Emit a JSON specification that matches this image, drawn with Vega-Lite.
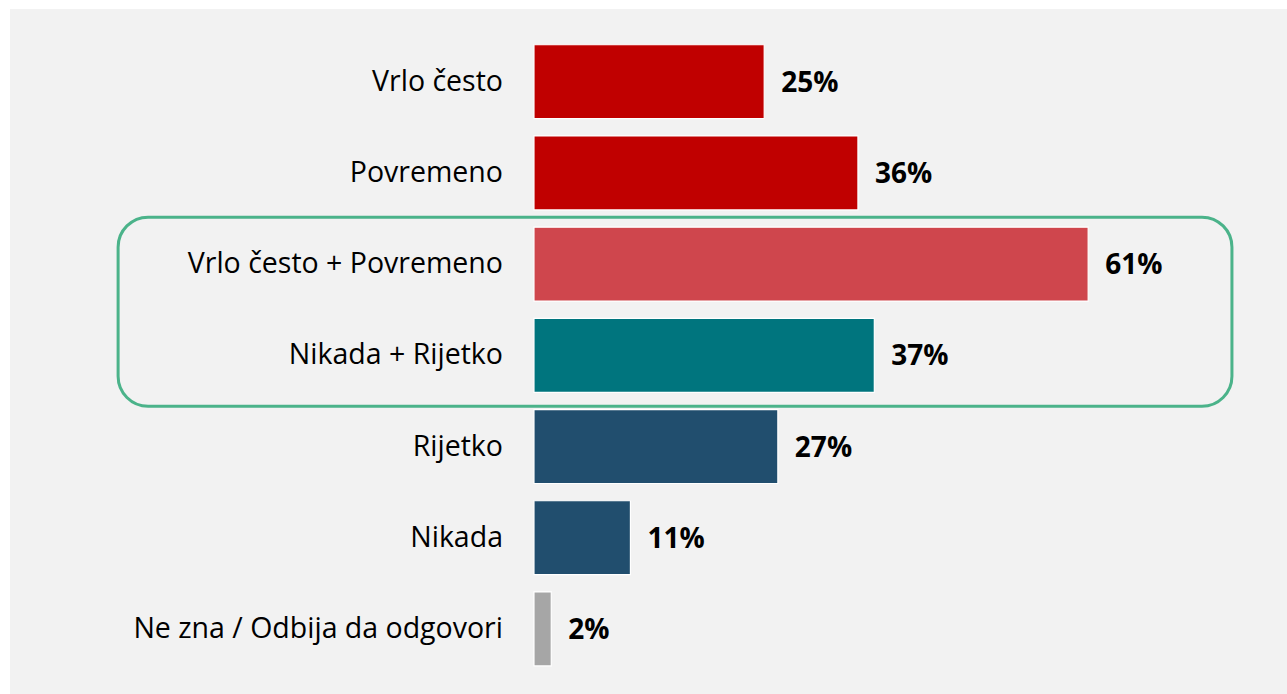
{
  "$schema": "https://vega.github.io/schema/vega-lite/v6.json",
  "width": 1287,
  "height": 694,
  "autosize": {"type": "fit", "contains": "padding"},
  "padding": {"left": 10, "top": 9, "right": 0, "bottom": 0},
  "background": "white",
  "config": {"view": {"fill": "#f2f2f2", "stroke": null}},
  "data": {
    "values": [
      {"kategorija": "Vrlo često", "vrijednost": 25.3, "oznaka": "25%", "grupa": "Često"},
      {"kategorija": "Povremeno", "vrijednost": 35.6, "oznaka": "36%", "grupa": "Često"},
      {"kategorija": "Vrlo često + Povremeno", "vrijednost": 60.9, "oznaka": "61%", "grupa": "Ukupno često"},
      {"kategorija": "Nikada + Rijetko", "vrijednost": 37.4, "oznaka": "37%", "grupa": "Ukupno rijetko"},
      {"kategorija": "Rijetko", "vrijednost": 26.8, "oznaka": "27%", "grupa": "Rijetko"},
      {"kategorija": "Nikada", "vrijednost": 10.6, "oznaka": "11%", "grupa": "Rijetko"},
      {"kategorija": "Ne zna / Odbija da odgovori", "vrijednost": 1.9, "oznaka": "2%", "grupa": "Ne zna"}
    ]
  },
  "encoding": {
    "y": {
      "field": "kategorija",
      "type": "nominal",
      "sort": null,
      "axis": null,
      "scale": {
        "domain": ["Vrlo često", "Povremeno", "Vrlo često + Povremeno", "Nikada + Rijetko", "Rijetko", "Nikada", "Ne zna / Odbija da odgovori"],
        "paddingInner": 0.189, "paddingOuter": 0.35, "align": 0.56
      }
    }
  },
  "layer": [
    {
      "data": {"values": [{"x1": -45.7, "x2": 76.7, "gore": "Vrlo često + Povremeno", "dolje": "Nikada + Rijetko"}]},
      "mark": {"type": "rect", "fill": null, "stroke": "#4bb38a", "strokeWidth": 3, "cornerRadius": 30, "yOffset": -47, "y2Offset": 51},
      "encoding": {
        "x": {"field": "x1", "type": "quantitative", "scale": {"domain": [-57.58, 82.75], "nice": false, "zero": false}, "axis": null},
        "x2": {"field": "x2"},
        "y": {"field": "gore", "type": "nominal", "sort": null, "axis": null},
        "y2": {"field": "dolje"}
      }
    },
    {
      "mark": {"type": "bar", "stroke": "white", "strokeWidth": 1.2},
      "encoding": {
        "x": {"field": "vrijednost", "type": "quantitative", "axis": null},
        "x2": {"datum": 0},
        "color": {
          "field": "grupa",
          "type": "nominal",
          "legend": null,
          "scale": {
            "domain": ["Često", "Ukupno često", "Ukupno rijetko", "Rijetko", "Ne zna"],
            "range": ["#c00000", "#cf464d", "#00757e", "#214e6e", "#a6a6a6"]
          }
        }
      }
    },
    {
      "mark": {"type": "text", "align": "left", "baseline": "middle", "dx": 17, "dy": 2, "font": "Open Sans", "fontSize": 28, "fontWeight": "bold", "color": "black"},
      "encoding": {
        "x": {"field": "vrijednost", "type": "quantitative"},
        "text": {"field": "oznaka"}
      }
    },
    {
      "mark": {"type": "text", "align": "right", "baseline": "middle", "dx": -31, "font": "Open Sans", "fontSize": 28.5, "color": "black"},
      "encoding": {
        "x": {"datum": 0},
        "text": {"field": "kategorija"}
      }
    }
  ]
}
